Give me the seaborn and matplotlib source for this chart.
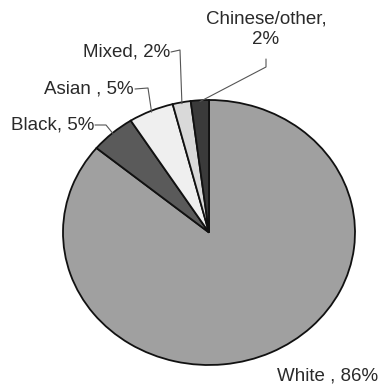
import numpy as np
import matplotlib
matplotlib.use("Agg")
import matplotlib.pyplot as plt
import seaborn as sns

# ---- data ----
categories = ["White", "Black", "Asian", "Mixed", "Chinese/other"]
shares = [86, 5, 5, 2, 2]
labels = ["White , 86%", "Black, 5%", "Asian , 5%", "Mixed, 2%", "Chinese/other,\n2%"]
colors = ["#a0a0a0", "#5a5a5a", "#efefef", "#d9d9d9", "#3a3a3a"]

sns.set_theme(style="white")
plt.rcParams["font.family"] = ["Liberation Sans", "DejaVu Sans"]

W, H = 381, 390
fig = plt.figure(figsize=(W / 100, H / 100), dpi=100)
fig.patch.set_facecolor("white")

# pie axes (slightly elliptical like the reference)
left, right, top, bottom = 63, 355, 100, 365
ax = fig.add_axes([left / W, (H - bottom) / H, (right - left) / W, (bottom - top) / H])
wedges, _ = ax.pie(shares, colors=colors, startangle=90, counterclock=False,
                   radius=1.0, wedgeprops=dict(edgecolor="#111111", linewidth=1.3))
ax.set_aspect("auto")
ax.set_xlim(-1, 1)
ax.set_ylim(-1, 1)
ax.axis("off")

# overlay axes in pixel coordinates for labels / leader lines
ov = fig.add_axes([0, 0, 1, 1])
ov.set_xlim(0, W)
ov.set_ylim(H, 0)
ov.axis("off")
ov.patch.set_alpha(0)

def to_px(x, y):
    disp = ax.transData.transform((x, y))
    return ov.transData.inverted().transform(disp)

fig.canvas.draw()

# label layout: (text x, text y, ha, elbow points)
layout = {
    "White": (378, 376, "right", None),
    "Black": (94, 125, "right", [(106, 125)]),
    "Asian": (134, 89, "right", [(148, 88)]),
    "Mixed": (170, 52, "right", [(180, 50)]),
    "Chinese/other": (266, 29, "center", [(266, 67), (266, 59)]),
}

for w, cat, lab in zip(wedges, categories, labels):
    tx, ty, ha, elbows = layout[cat]
    ov.text(tx, ty, lab, ha=ha, va="center", fontsize=13.5, color="#2a2a2a",
            linespacing=1.3)
    if elbows:
        mid = np.deg2rad((w.theta1 + w.theta2) / 2)
        ax_pt = to_px(np.cos(mid) * 0.99, np.sin(mid) * 0.99)
        pts = [tuple(ax_pt)] + elbows
        if cat != "Chinese/other":
            pts = pts + [(tx + 1, ty)]
        xs, ys = zip(*pts)
        ov.plot(xs, ys, color="#555555", lw=0.8)

fig.savefig("out.png", dpi=100, facecolor="white")
